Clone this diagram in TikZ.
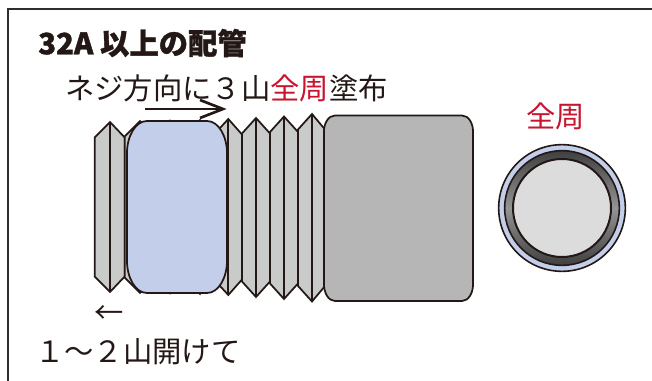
\documentclass[tikz,border=0pt]{standalone}
\usepackage{fontspec}
\setmainfont{Noto Sans CJK JP}
\definecolor{ink}{HTML}{231815}
\definecolor{redtxt}{HTML}{C8142F}
\definecolor{blueP}{HTML}{C3CFEA}
\definecolor{thr}{HTML}{C9CACA}
\definecolor{bodyG}{HTML}{B5B6B5}
\definecolor{innerG}{HTML}{DCDCDC}
\tikzset{
  outline/.style={draw=ink,line width=1.3pt,line join=miter},
  label/.style={inner sep=0pt,text=ink,font=\fontsize{22pt}{24pt}\selectfont,anchor=west},
  open/.style={draw=ink,line width=2pt}
}
\begin{document}
\begin{tikzpicture}[x=0.75pt,y=-0.75pt]
\useasboundingbox (0,0) rectangle (652,381);
\fill[white] (0,0) rectangle (652,381);
\draw[draw=black!82,line width=2pt] (8,381) -- (8,9) -- (652,9);
% threads
\foreach \a/\b/\c/\t/\u in {94.7/110/124.7/122/292,124.7/140/155/121/293,155/170/185/120.5/293.5,185/200/214/120/294,214/228.3/242/119/295,242/256/270/118/297,270/284/298/116.5/299,298/312/325/114/301.5}{
  \pgfmathsetmacro{\ts}{\t+15.5}
  \pgfmathsetmacro{\us}{\u-15.5}
  \draw[outline,fill=thr] (\a,\ts) -- (\b,\t) -- (\c,\ts) -- (\c,\us) -- (\b,\u) -- (\a,\us) -- cycle;
  \draw[outline] (\b,\t) -- (\b,\u);
}
% painted zone
\draw[outline,fill=blueP] (147,121) -- (207,121)
  .. controls (219,121) and (227,137) .. (227,153) -- (227,261)
  .. controls (227,277) and (219,293) .. (207,293) -- (147,293)
  .. controls (135,293) and (127,277) .. (127,261) -- (127,153)
  .. controls (127,137) and (135,121) .. (147,121) -- cycle;
% coupling body
\draw[outline,fill=bodyG] (335,115.5) -- (462,115.5)
  .. controls (469,115.5) and (473,124) .. (473,131) -- (473,285)
  .. controls (473,292) and (469,301) .. (462,301) -- (335,301)
  .. controls (328,301) and (324,292) .. (324,285) -- (324,131)
  .. controls (324,124) and (328,115.5) .. (335,115.5) -- cycle;
% end view
\node[circle,draw=ink,line width=1.2pt,fill=blueP,minimum size=95pt,inner sep=0pt] (c1) at (562,208) {};
\node[circle,draw=ink,line width=1.2pt,top color=black!75,bottom color=black!75,middle color=black!42,minimum size=86pt,inner sep=0pt] (c2) at (562,208) {};
\node[circle,draw=ink,line width=1.5pt,fill=innerG,minimum size=73.5pt,inner sep=0pt] (c3) at (562,208) {};
% texts
\node[label,font=\fontsize{22pt}{24pt}\selectfont\bfseries\addfontfeature{FakeBold=1.2}] (title) at (38,43) {32A 以上の配管};
\node[label] (top) at (65,88.5) {ネジ方向に３山\textcolor{redtxt}{全周}塗布};
\node[label,text=redtxt] (full) at (526,116) {全周};
\node[label] (larrow) at (94,315) {←};
\node[label] (bottom) at (35,352) {１〜２山開けて};
% direction arrow
\coordinate (arrA) at (145,109);
\coordinate (arrB) at (223,109);
\draw[open] (arrA) -- (arrB);
\coordinate (h1) at (200,100);
\coordinate (h2) at (200,118);
\draw[open,line join=miter] (h1) -- (arrB) -- (h2);
\end{tikzpicture}
\end{document}
